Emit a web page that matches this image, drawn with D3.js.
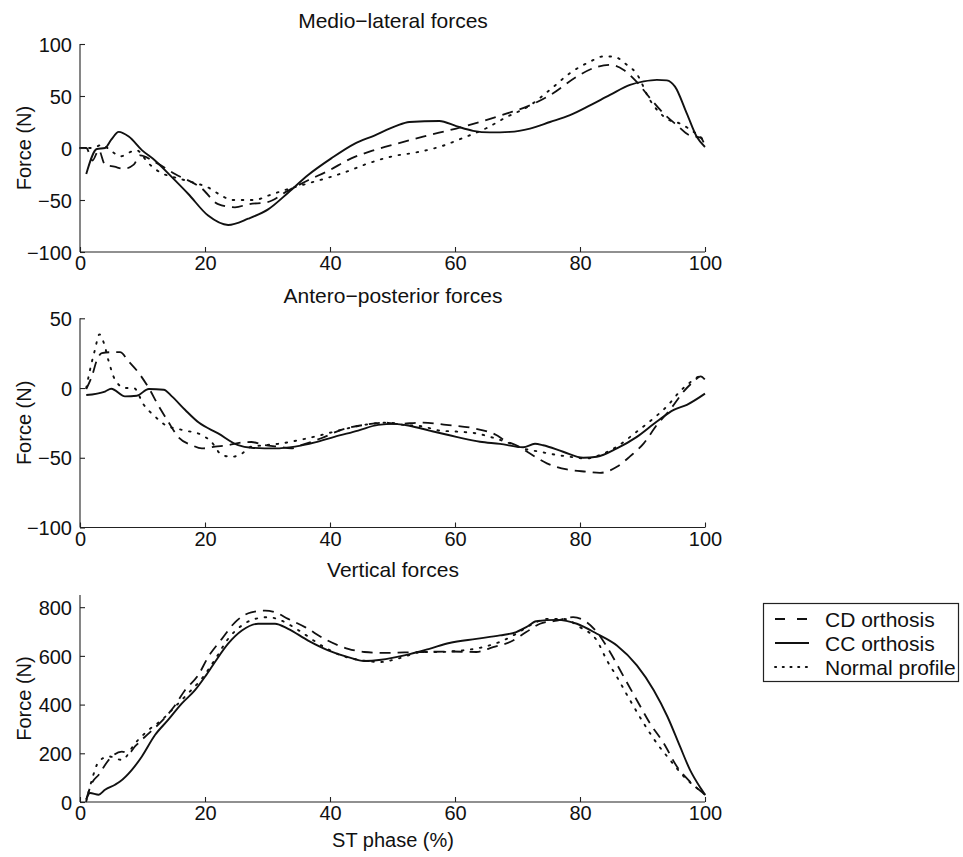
<!DOCTYPE html>
<html><head><meta charset="utf-8">
<script src="https://cdn.jsdelivr.net/npm/d3@7"></script>
<style>body{margin:0;background:#fff}svg{display:block}text{font-family:"Liberation Sans",Arial,Helvetica,sans-serif;fill:#111}</style>
</head><body>
<script>
// ---------- data ----------
const xTicks = [0, 20, 40, 60, 80, 100];
const titles = ["Medio\u2212lateral forces", "Antero\u2212posterior forces", "Vertical forces"];
const yTicksML = [-100, -50, 0, 50, 100];
const yTicksAP = [-100, -50, 0, 50];
const yTicksV = [0, 200, 400, 600, 800];
const legendLabels = ["CD orthosis", "CC orthosis", "Normal profile"];

// Medio-lateral  [phase %, force N]
const mlCD = [[0,0],[1,0],[2,-12],[3,-2],[4,-16],[5.5,-18],[7,-20],[8.6,-16],[9.6,-7],[12,-13.5],[15.2,-25],[19.5,-39],[22.1,-54],[24.8,-57],[27,-54],[30,-52],[33.3,-41],[36.5,-31],[39.7,-22],[43.4,-10],[47.1,-2],[50.6,4],[54.9,11],[60.2,18.7],[64,25],[68.2,33],[72,41],[75.7,52.6],[79.5,68.7],[82.7,78],[84.8,80],[87,75],[89,64],[91.2,48],[93.4,33],[95.5,22],[97.6,12],[99.3,10],[100,2]];
const mlCC = [[1,-25],[2.7,-1],[4,0],[5,8],[6.2,15.5],[7.8,11],[9.9,-2],[12,-12],[14.7,-28],[17.3,-44],[20.5,-65],[23.7,-74],[26.9,-68],[30.1,-59],[33.3,-43],[36.5,-26],[40.2,-10],[43.9,4],[47.1,12],[50.5,21],[52.7,25],[57.5,26],[60.2,21],[62.9,16.5],[65.6,15],[68.8,15.5],[72,18.7],[75.2,25],[78.4,31.6],[81.6,41],[84.8,51],[88,60.6],[90.2,64],[92.3,65.5],[93.9,65],[95.2,59],[97.1,33],[98.7,10.6],[100,1]];
const mlNormal = [[0,0],[2,0],[3.5,3],[5,-3],[6.5,-8],[8,-4],[9,-2],[11,-15],[13,-24],[15,-28],[18,-33],[20.5,-38],[22.7,-46],[24.3,-50],[26,-50],[28,-50],[30,-46],[33,-40],[36.5,-34],[40,-28],[43,-22],[46,-15],[50,-8],[54,-4],[58,2],[61,9],[65,19],[68,29],[72,41],[75.2,56],[78.4,72],[81.6,83],[83.7,88],[85.3,88],[87.5,80],[89,72],[91.2,46],[93.9,28],[96,23.5],[98.2,15.5],[99.3,10.6],[100,5]];

// Antero-posterior
const apCD = [[1,-0.7],[1.9,8.4],[2.7,20],[3.5,25],[5.1,25.7],[6.4,25.7],[7.8,19],[9.4,10.8],[11,0],[12.6,-13],[14.1,-24],[15.7,-35],[17.9,-41],[19.5,-43.3],[21.6,-42],[23.7,-41],[25.9,-39],[27.4,-38.7],[29.6,-41],[31.7,-42],[33.8,-43.3],[35.4,-41],[38.6,-36],[41.8,-30],[45.5,-26.4],[48.7,-24.8],[50.6,-25.7],[54.9,-24.8],[58.6,-26.4],[62.9,-28.8],[66.6,-33.7],[68,-37.7],[69.8,-41],[72,-47],[74.7,-54],[77.9,-58.4],[81.1,-60],[83.2,-60.8],[85.9,-56.5],[88,-49],[90.2,-39.7],[92.3,-26.4],[94.4,-15.6],[96.6,-2.4],[98.2,4.8],[99.3,8.4],[100,6]];
const apCC = [[1,-5],[4,-2.5],[5,-0.5],[7.2,-6],[9.1,-5.5],[11,-0.7],[13.4,-1.2],[14.7,-6],[16.8,-15.6],[19,-24.8],[22.1,-32.5],[25.3,-41],[27.4,-42.8],[31.2,-43.3],[34.4,-42],[37.6,-39],[40.7,-35],[44.5,-30.5],[47.7,-26.4],[50.3,-25.7],[52.7,-27],[55.9,-30.5],[60.2,-35],[64,-38.5],[67.2,-40],[70.9,-42.5],[72.8,-40],[74.1,-41],[77.3,-45.7],[80.5,-50],[82.7,-49.3],[85.9,-43.3],[89.1,-35],[92.3,-24],[95,-15.6],[97.1,-12],[100,-4]];
const apNormal = [[1,0],[1.6,13],[2.4,27.6],[3.1,38.5],[3.8,32.5],[4.6,19],[5.6,6],[7.2,0],[8.6,0],[10.2,-12],[12,-20.4],[13.6,-26.4],[16.3,-30],[19.5,-33.7],[21,-38.5],[22.7,-48],[24.3,-49.3],[25.9,-47],[27.4,-42],[29.6,-41],[32.2,-39.7],[35.4,-37],[38.6,-33.7],[41.8,-30],[45.5,-26.4],[49.3,-24.8],[51.7,-26.4],[54.9,-27.6],[57.5,-30.5],[60.2,-31.2],[63.4,-32.5],[65.6,-35],[68.8,-39.7],[70.9,-43.3],[73.6,-45.7],[76.3,-48],[78.4,-49.3],[81,-50.5],[83.2,-48],[85.9,-42],[89.1,-31.2],[91.8,-21.6],[93.9,-13.2],[96,-2.4],[97.6,4],[99.3,8.4],[100,7.2]];

// Vertical
const vCD = [[1,10],[1.9,78],[3,112],[4.6,173],[6.7,207],[7.8,200],[8.8,228],[11,282],[13,330],[15,390],[16.8,459],[18.9,520],[20.5,595],[22.7,670],[24.8,738],[27.4,779],[29.6,786],[31.2,779],[33.3,752],[36,718],[39.1,670],[42.9,629],[45.5,616],[48.7,612],[51.9,614],[54.9,616],[59.1,618],[63.4,616],[66.1,636],[68.8,657],[71.4,698],[73.6,732],[76.3,745],[78.9,759],[81.1,738],[82.7,698],[84.8,616],[87,514],[89.1,418],[91.2,323],[93.4,241],[95.5,146],[97.6,84],[100,30]];
const vCC = [[1,10],[1.6,37],[3,30],[4,50],[5.6,71],[6.4,84],[8.3,132],[9.9,187],[12,275],[14.1,337],[16.3,405],[18.4,459],[20,514],[21.6,575],[23.7,650],[25.9,704],[28.5,732],[31.2,732],[33.3,711],[36.5,663],[39.7,623],[42.9,595],[45.5,579],[48.2,584],[51.9,602],[55.9,629],[59.1,653],[63.4,670],[67.2,684],[69.8,698],[71.4,718],[73,742],[76.3,748],[79.5,732],[82.7,691],[85.9,643],[89.1,561],[91.8,459],[94,350],[96,228],[97.6,132],[99.3,57],[100,30]];
const vNormal = [[1,3],[1.9,91],[3,166],[4.6,187],[6.7,173],[8.8,241],[11,296],[13.1,337],[15.2,391],[17.3,446],[19.5,507],[21.6,585],[23.7,670],[25.9,725],[28,752],[30.1,759],[32.2,745],[35.4,698],[38.6,643],[41.8,602],[45,582],[48.2,575],[50.9,589],[54.9,616],[57.5,616],[60.2,620],[64.5,636],[67.7,663],[69.8,691],[72,725],[74.7,752],[77.3,752],[80,718],[82.7,663],[84.3,582],[85.9,514],[88,418],[90.2,323],[92.3,241],[94.4,173],[96.6,105],[98.7,57],[100,30]];

// ---------- styling ----------
const styles = {
  CD: {dash: "11,7", width: 1.8},
  CC: {dash: null, width: 1.9},
  N:  {dash: "1.6,7.5", width: 1.9}
};

const W = 963, H = 857;
const svg = d3.select("body").append("svg").attr("width", W).attr("height", H);
svg.append("rect").attr("width", W).attr("height", H).attr("fill", "#fff");

const x = d3.scaleLinear().domain([0, 100]).range([80, 705]);

const panels = [
  {title: titles[0], domain: [-100, 100], range: [252, 44], ticks: yTicksML, series: [[mlNormal,"N"],[mlCD,"CD"],[mlCC,"CC"]], titleY: 28},
  {title: titles[1], domain: [-100, 50], range: [527.5, 318.3], ticks: yTicksAP, series: [[apNormal,"N"],[apCD,"CD"],[apCC,"CC"]], titleY: 303},
  {title: titles[2], domain: [0, 850], range: [802, 595], ticks: yTicksV, series: [[vNormal,"N"],[vCD,"CD"],[vCC,"CC"]], titleY: 577}
];

const fmt = d3.format("d");

panels.forEach((p, i) => {
  const y = d3.scaleLinear().domain(p.domain).range(p.range);
  const g = svg.append("g");
  // lines
  const line = d3.line().x(d => x(d[0])).y(d => y(d[1])).curve(d3.curveMonotoneX);
  p.series.forEach(([data, key]) => {
    const s = styles[key];
    g.append("path").datum(data).attr("d", line)
      .attr("fill", "none").attr("stroke", "#111")
      .attr("stroke-width", s.width)
      .attr("stroke-linejoin", "round")
      .attr("stroke-linecap", key === "N" ? "round" : "butt")
      .attr("stroke-dasharray", s.dash);
  });
  // x axis (ticks inward)
  const xa = g.append("g").attr("transform", `translate(0,${p.range[0]})`)
    .call(d3.axisBottom(x).tickValues(xTicks).tickSize(-5).tickPadding(0).tickFormat(fmt));
  xa.select(".domain").attr("d", `M${x(0)},0H${x(100)}`);
  xa.selectAll("text").attr("y", 18).attr("dy", null).style("font-size", "20px").attr("fill", "#111");
  // y axis
  const ya = g.append("g").attr("transform", `translate(${x(0)},0)`)
    .call(d3.axisLeft(y).tickValues(p.ticks).tickSize(-5).tickPadding(8).tickFormat(fmt));
  ya.select(".domain").attr("d", `M0,${p.range[0]}V${p.range[1]}`);
  ya.selectAll("text").attr("dy", "0.36em").style("font-size", "20px").attr("fill", "#111");
  svg.selectAll(".domain, .tick line").attr("stroke", "#222").attr("stroke-width", 1.1);
  // title
  svg.append("text").attr("x", 393).attr("y", p.titleY).attr("text-anchor", "middle")
    .style("font-size", "21px").text(p.title);
  // y label
  const cy = (p.range[0] + p.range[1]) / 2;
  svg.append("text").attr("transform", `translate(31,${cy}) rotate(-90)`)
    .attr("text-anchor", "middle").style("font-size", "20px").text("Force (N)");
});

// x label
svg.append("text").attr("x", 393).attr("y", 847).attr("text-anchor", "middle")
  .style("font-size", "20px").text("ST phase (%)");

// legend
const lg = svg.append("g");
lg.append("rect").attr("x", 763.5).attr("y", 603.5).attr("width", 195).attr("height", 78)
  .attr("fill", "#fff").attr("stroke", "#222").attr("stroke-width", 1.2);
const legKeys = ["CD", "CC", "N"];
legKeys.forEach((k, i) => {
  const cy = 619 + i * 24;
  const s = styles[k];
  lg.append("line").attr("x1", 775).attr("x2", 809).attr("y1", cy).attr("y2", cy)
    .attr("stroke", "#111").attr("stroke-width", s.width)
    .attr("stroke-linecap", k === "N" ? "round" : "butt")
    .attr("stroke-dasharray", k === "CD" ? "10,12" : (k === "N" ? "1.2,6.5" : null));
  lg.append("text").attr("x", 825).attr("y", cy + 7.5).style("font-size", "21px").text(legendLabels[i]);
});
</script>
</body></html>
